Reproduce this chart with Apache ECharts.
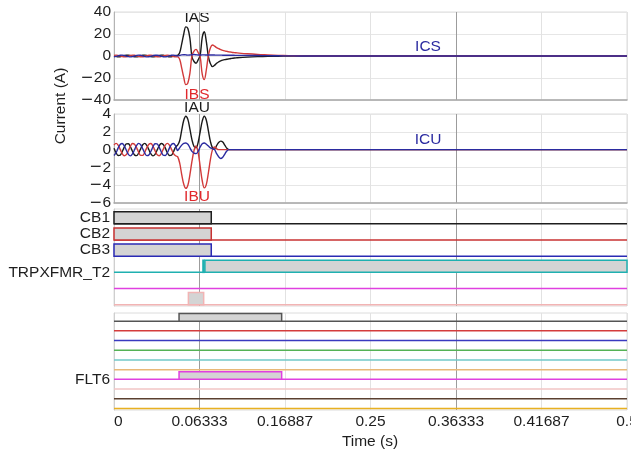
<!DOCTYPE html>
<html>
<head>
<meta charset="utf-8">
<script src="https://cdn.jsdelivr.net/npm/echarts@6/dist/echarts.min.js"></script>
<style>
html, body { margin: 0; padding: 0; background: #fff; }
#chart { width: 631px; height: 455px; }
</style>
</head>
<body>
<div id="chart"></div>
<script>
// ---- recorded data -------------------------------------------------------

// sample instants (s) shared by all analog channels
const sampleTimes = [
  0, 0.002, 0.004, 0.006, 0.008, 0.010, 0.012, 0.014, 0.016, 0.018,
  0.020, 0.022, 0.024, 0.026, 0.028, 0.030, 0.032, 0.034, 0.036, 0.038,
  0.040, 0.042, 0.044, 0.046, 0.048, 0.050, 0.052, 0.054, 0.056, 0.058,
  0.060, 0.062, 0.064, 0.066, 0.068, 0.070, 0.072, 0.074, 0.076, 0.078,
  0.080, 0.082, 0.084, 0.086, 0.088, 0.090, 0.092, 0.094, 0.096, 0.098,
  0.100, 0.102, 0.104, 0.106, 0.108, 0.110, 0.112, 0.114, 0.116, 0.118,
  0.120, 0.13, 0.14, 0.15, 0.16, 0.17, 0.18, 0.20, 0.50
];

// source-side phase currents (A)
const iasValues = [
  0.18, -0.4, -0.77, -0.72, -0.27, 0.31, 0.73, 0.75, 0.37, -0.22,
  -0.69, -0.78, -0.46, 0.11, 0.63, 0.8, 0.54, -0.01, -0.56, -0.8,
  -0.61, -0.08, 0.48, 0.79, 0.66, 0.18, -0.4, -0.77, -0.72, -0.27,
  0.31, 0.6, 3, 11, 20, 26.5, 25, 16, -0.8, -5,
  -6.6, -3.5, 0.8, 17, 22, 13, -0.5, -7, -9.7, -8.5,
  -6.6, -5.4, -4.5, -3.8, -3.3, -2.9, -2.6, -2.3, -2.0, -1.8,
  -1.6, -1.0, -0.6, -0.35, -0.2, -0.1, 0, 0, 0
];
const ibsValues = [
  0.58, 0.8, 0.58, 0.05, -0.51, -0.79, -0.65, -0.15, 0.43, 0.78,
  0.7, 0.25, -0.34, -0.74, -0.74, -0.34, 0.25, 0.7, 0.78, 0.43,
  -0.15, -0.65, -0.79, -0.51, 0.05, 0.58, 0.8, 0.58, 0.05, -0.51,
  -0.79, -0.8, -3, -11, -19.5, -26, -24.5, -15.5, 0.5, 4.5,
  6, 3.2, -0.8, -16.5, -21.5, -12.5, 0.5, 7.5, 10, 9,
  7.6, 6.6, 5.8, 5.1, 4.6, 4.2, 3.8, 3.5, 3.2, 3.0,
  2.8, 2.0, 1.4, 1.0, 0.6, 0.35, 0.2, 0, 0
];
const icsValues = [
  -0.77, -0.4, 0.18, 0.66, 0.79, 0.48, -0.08, -0.61, -0.8, -0.56,
  -0.01, 0.54, 0.8, 0.63, 0.11, -0.46, -0.78, -0.69, -0.22, 0.37,
  0.75, 0.73, 0.31, -0.27, -0.72, -0.77, -0.4, 0.18, 0.66, 0.79,
  0.48, 0.1, 0.6, 1.0, 1.2, 1.0, 0.8, 0.9, 1.2, 1.3,
  1.1, 0.9, 0.9, 1.0, 1.0, 0.9, 0.9, 0.9, 0.9, 0.85,
  0.8, 0.8, 0.8, 0.75, 0.75, 0.7, 0.7, 0.65, 0.65, 0.6,
  0.6, 0.5, 0.4, 0.3, 0.2, 0.1, 0.05, 0, 0
];

// load-side phase currents (A)
const iauValues = [
  0.16, -0.35, -0.67, -0.63, -0.24, 0.27, 0.64, 0.66, 0.32, -0.19,
  -0.60, -0.68, -0.40, 0.10, 0.55, 0.70, 0.47, -0.01, -0.49, -0.70,
  -0.53, -0.07, 0.42, 0.69, 0.58, 0.16, -0.35, -0.67, -0.63, -0.24,
  0.27, 0.5, 1.0, 2.2, 3.3, 3.75, 3.4, 2.3, 1.1, 0.35,
  0.2, 0.8, 2.0, 3.2, 3.75, 3.3, 2.1, 0.9, 0.2, 0.05,
  0.45, 0.8, 0.95, 0.85, 0.5, 0.15, 0, 0, 0, 0,
  0, 0, 0, 0, 0, 0, 0, 0, 0
];
const ibuValues = [
  0.51, 0.70, 0.51, 0.04, -0.45, -0.69, -0.57, -0.13, 0.38, 0.68,
  0.61, 0.22, -0.30, -0.65, -0.65, -0.30, 0.22, 0.61, 0.68, 0.38,
  -0.13, -0.57, -0.69, -0.45, 0.04, 0.51, 0.70, 0.51, 0.04, -0.45,
  -0.69, -0.8, -1.5, -2.8, -3.9, -4.35, -4.0, -2.8, -1.3, -0.1,
  0.4, -0.3, -1.9, -3.5, -4.3, -3.9, -2.6, -1.1, 0, 0.3,
  0.1, 0, 0, 0, 0, 0, 0, 0, 0, 0,
  0, 0, 0, 0, 0, 0, 0, 0, 0
];
const icuValues = [
  -0.67, -0.35, 0.16, 0.58, 0.69, 0.42, -0.07, -0.53, -0.70, -0.49,
  -0.01, 0.47, 0.70, 0.55, 0.10, -0.40, -0.68, -0.60, -0.19, 0.32,
  0.66, 0.64, 0.27, -0.24, -0.63, -0.67, -0.35, 0.16, 0.58, 0.69,
  0.42, -0.1, 0.2, 0.5, 0.7, 0.75, 0.6, 0.2, -0.2, -0.4,
  -0.45, -0.2, 0.3, 0.65, 0.75, 0.6, 0.4, 0.2, 0.1, 0,
  -0.45, -0.8, -1.0, -0.85, -0.5, -0.15, 0, 0, 0, 0,
  0, 0, 0, 0, 0, 0, 0, 0, 0
];

// digital channels: names and asserted intervals [start, end] in s
const breakerNames = ['CB1', 'CB2', 'CB3', 'TRPXFMR_T2', '', ''];
const breakerHigh = [
  [[0, 0.0948]],
  [[0, 0.0948]],
  [[0, 0.0948]],
  [[0.0867, 0.0877], [0.0886, 0.5]],
  [],
  [[0.0725, 0.0874]]
];
const faultNames = ['', '', '', '', '', '', 'FLT6', '', '', ''];
const faultHigh = [
  [[0.0634, 0.1634]], [], [], [], [], [],
  [[0.0634, 0.1634]], [], [], []
];

// time axis tick labels
const tickLabels = ['0', '0.06333', '0.16887', '0.25', '0.36333', '0.41687', '0.5'];

// ---- styling ---------------------------------------------------------------
const FONT = "'Liberation Sans', Arial, Helvetica, sans-serif";
const FS = 15.5;
const TEXT = '#1e1e1e';
const X_MAX = 0.5;
const X_STEP = X_MAX / 6;
const BOX_FILL = '#d4d4d4';

const panels = [
  { top: 12, height: 88 },
  { top: 114, height: 89 },
  { top: 209, height: 97 },
  { top: 313, height: 97 }
];
const breakerColors = ['#1e1e1e', '#c83232', '#2a2ab4', '#1fb0b0', '#e040e0', '#f2b4b4'];
const faultColors = ['#555555', '#d43c3c', '#3a3ac0', '#55b255', '#72c8c8',
                     '#e8b878', '#e040e0', '#f2c4c4', '#5a4030', '#e8b020'];
const vGridColors = ['#e2e2e2', '#9c9c9c', '#e2e2e2', '#e2e2e2', '#9c9c9c', '#e2e2e2', '#e2e2e2'];

// negative tick values get a wide minus sign
const signed = v => (v < 0 ? '{m|\u2212}' + (-v) : String(v));
const minusRich = { m: { fontFamily: "'DejaVu Sans'", fontSize: FS, color: TEXT } };
const pairs = vals => sampleTimes.map((t, i) => [t, vals[i]]);

function analogLine(name, vals, color, idx) {
  return {
    name, type: 'line', xAxisIndex: idx, yAxisIndex: idx,
    data: pairs(vals), showSymbol: false, smooth: 0.35, silent: true,
    lineStyle: { color, width: 1.4 }, animation: false
  };
}

// rail of digital channels: baseline per channel plus a filled box while asserted
function digitalRail(idx, names, highs, colors, baseOff, highOff) {
  return {
    type: 'custom', xAxisIndex: idx, yAxisIndex: idx, silent: true, animation: false,
    clip: false,
    data: names.map((_, i) => [0, i]),
    renderItem(params, api) {
      const i = api.value(1);
      const base = i + baseOff;
      const top = i + highOff;
      const a = api.coord([0, base]);
      const b = api.coord([X_MAX, base]);
      const children = [{
        type: 'line',
        shape: { x1: a[0], y1: a[1], x2: b[0], y2: b[1] },
        style: { stroke: colors[i], lineWidth: 1.5 }
      }];
      highs[i].forEach(([s, e]) => {
        const p0 = api.coord([s, top]);
        const p1 = api.coord([e, base]);
        children.push({
          type: 'rect',
          shape: { x: p0[0], y: p0[1], width: p1[0] - p0[0], height: p1[1] - p0[1] },
          style: { fill: BOX_FILL, stroke: colors[i], lineWidth: 1.5 }
        });
      });
      if (names[i]) {
        const startsHigh = highs[i].some(([s]) => s <= 0);
        const ly = startsHigh ? (api.coord([0, top])[1] + a[1]) / 2 : a[1];
        children.push({
          type: 'text', x: a[0] - 4, y: ly,
          style: { text: names[i], fill: TEXT, fontSize: FS, fontFamily: FONT,
                   align: 'right', verticalAlign: 'middle' }
        });
      }
      return { type: 'group', children };
    }
  };
}

const chart = echarts.init(document.getElementById('chart'), null, { renderer: 'canvas' });

const option = {
  animation: false,
  backgroundColor: '#ffffff',
  grid: panels.map(p => ({
    left: 114, right: 4, top: p.top, height: p.height,
    show: true, borderColor: '#dcdcdc', borderWidth: 1,
    containLabel: false, outerBoundsMode: 'none'
  })),
  xAxis: panels.map((p, i) => ({
    type: 'value', gridIndex: i, min: 0, max: X_MAX, interval: X_STEP,
    axisLine: { show: i < 2, onZero: false, lineStyle: { color: '#a8a8a8', width: 1.5 } },
    axisTick: { show: false },
    axisLabel: {
      show: i === 3, color: TEXT, fontFamily: FONT, fontSize: FS, margin: 4,
      alignMinLabel: 'left',
      formatter: v => tickLabels[Math.round(v / X_STEP)]
    },
    splitLine: { show: true, lineStyle: { color: vGridColors, width: 1 } }
  })),
  yAxis: [
    {
      type: 'value', gridIndex: 0, min: -40, max: 40, interval: 20,
      axisLine: { show: true, onZero: false, lineStyle: { color: '#b4b4b4' } },
      axisTick: { show: false },
      axisLabel: { color: TEXT, fontFamily: FONT, fontSize: FS, margin: 3, formatter: signed, rich: minusRich },
      splitLine: { lineStyle: { color: '#e6e6e6' } }
    },
    {
      type: 'value', gridIndex: 1, min: -6, max: 4, interval: 2,
      axisLine: { show: true, onZero: false, lineStyle: { color: '#b4b4b4' } },
      axisTick: { show: false },
      axisLabel: { color: TEXT, fontFamily: FONT, fontSize: FS, margin: 3, formatter: signed, rich: minusRich },
      splitLine: { lineStyle: { color: '#e6e6e6' } }
    },
    {
      type: 'value', gridIndex: 2, min: 0, max: breakerNames.length, inverse: true,
      axisLine: { show: true, onZero: false, lineStyle: { color: '#cfcfcf' } },
      axisTick: { show: false }, axisLabel: { show: false }, splitLine: { show: false }
    },
    {
      type: 'value', gridIndex: 3, min: 0, max: faultNames.length, inverse: true,
      axisLine: { show: true, onZero: false, lineStyle: { color: '#cfcfcf' } },
      axisTick: { show: false }, axisLabel: { show: false }, splitLine: { show: false }
    }
  ],
  series: [
    analogLine('IAS', iasValues, '#1a1a1a', 0),
    analogLine('IBS', ibsValues, '#d23a3a', 0),
    analogLine('ICS', icsValues, '#2b2ba0', 0),
    analogLine('IAU', iauValues, '#1a1a1a', 1),
    analogLine('IBU', ibuValues, '#d23a3a', 1),
    analogLine('ICU', icuValues, '#2b2ba0', 1),
    digitalRail(2, breakerNames, breakerHigh, breakerColors, 0.92, 0.17),
    digitalRail(3, faultNames, faultHigh, faultColors, 0.84, 0.06)
  ],
  graphic: [
    { type: 'text', x: 197, y: 18, style: { text: 'IAS', fill: '#1a1a1a', fontSize: FS, fontFamily: FONT, align: 'center', verticalAlign: 'middle' } },
    { type: 'text', x: 197, y: 95, style: { text: 'IBS', fill: '#e0282c', fontSize: FS, fontFamily: FONT, align: 'center', verticalAlign: 'middle' } },
    { type: 'text', x: 428, y: 47, style: { text: 'ICS', fill: '#2b2ba0', fontSize: FS, fontFamily: FONT, align: 'center', verticalAlign: 'middle' } },
    { type: 'text', x: 197, y: 108, style: { text: 'IAU', fill: '#1a1a1a', fontSize: FS, fontFamily: FONT, align: 'center', verticalAlign: 'middle' } },
    { type: 'text', x: 197, y: 197, style: { text: 'IBU', fill: '#e0282c', fontSize: FS, fontFamily: FONT, align: 'center', verticalAlign: 'middle' } },
    { type: 'text', x: 428, y: 140, style: { text: 'ICU', fill: '#2b2ba0', fontSize: FS, fontFamily: FONT, align: 'center', verticalAlign: 'middle' } },
    { type: 'text', x: 61, y: 106, rotation: Math.PI / 2, style: { text: 'Current (A)', fill: TEXT, fontSize: FS, fontFamily: FONT, align: 'center', verticalAlign: 'middle' } },
    { type: 'text', x: 370, y: 442, style: { text: 'Time (s)', fill: TEXT, fontSize: FS, fontFamily: FONT, align: 'center', verticalAlign: 'middle' } }
  ]
};

chart.setOption(option);
</script>
</body>
</html>
